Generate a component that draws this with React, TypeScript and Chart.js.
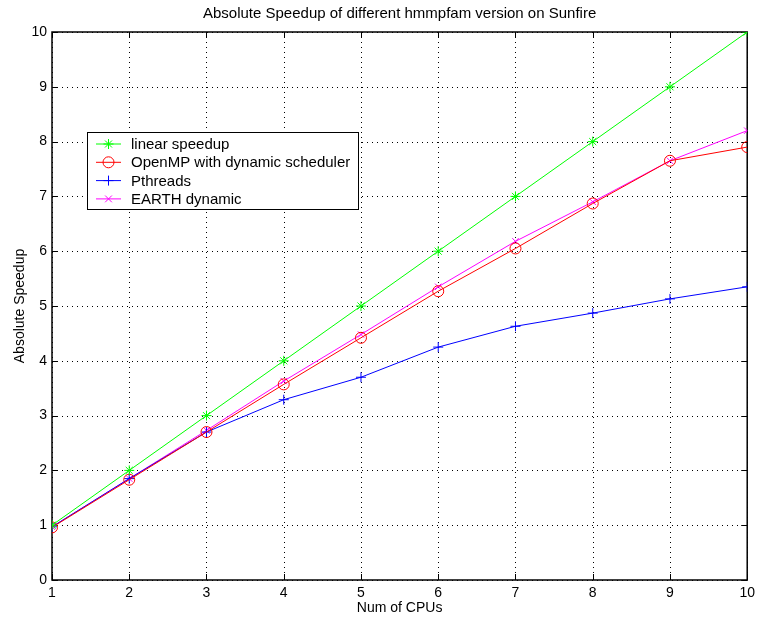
import React, { useEffect, useRef } from "react";
import { Chart, registerables } from "chart.js";

Chart.register(...registerables);

const cpus = [1, 2, 3, 4, 5, 6, 7, 8, 9, 10];
const linearSpeedup = [1, 2, 3, 4, 5, 6, 7, 8, 9, 10];
const openmpDynamic = [0.96, 1.83, 2.7, 3.57, 4.42, 5.27, 6.05, 6.87, 7.65, 7.9];
const pthreads = [0.97, 1.85, 2.7, 3.29, 3.7, 4.25, 4.63, 4.87, 5.13, 5.35];
const earthDynamic = [0.97, 1.85, 2.73, 3.63, 4.48, 5.35, 6.18, 6.9, 7.65, 8.2];
const yTicks = [0, 1, 2, 3, 4, 5, 6, 7, 8, 9, 10];

const FONT = "'Liberation Sans', Arial, Helvetica, sans-serif";

const series = [
  { label: "linear speedup", data: linearSpeedup, color: "#00ff00", style: "star", radius: 5 },
  { label: "OpenMP with dynamic scheduler", data: openmpDynamic, color: "#ff0000", style: "circle", radius: 5.5 },
  { label: "Pthreads", data: pthreads, color: "#0000ff", style: "cross", radius: 5 },
  { label: "EARTH dynamic", data: earthDynamic, color: "#ff00ff", style: "crossRot", radius: 4.5 },
];

function drawMarker(ctx: CanvasRenderingContext2D, style: string, x: number, y: number, r: number, color: string) {
  ctx.save();
  ctx.strokeStyle = color;
  ctx.lineWidth = 1;
  ctx.beginPath();
  if (style === "circle") {
    ctx.arc(x, y, r, 0, Math.PI * 2);
  } else if (style === "cross") {
    ctx.moveTo(x - r, y); ctx.lineTo(x + r, y);
    ctx.moveTo(x, y - r); ctx.lineTo(x, y + r);
  } else if (style === "crossRot") {
    const d = r * 0.75;
    ctx.moveTo(x - d, y - d); ctx.lineTo(x + d, y + d);
    ctx.moveTo(x - d, y + d); ctx.lineTo(x + d, y - d);
  } else {
    const d = r * 0.7;
    ctx.moveTo(x - r, y); ctx.lineTo(x + r, y);
    ctx.moveTo(x, y - r); ctx.lineTo(x, y + r);
    ctx.moveTo(x - d, y - d); ctx.lineTo(x + d, y + d);
    ctx.moveTo(x - d, y + d); ctx.lineTo(x + d, y - d);
  }
  ctx.stroke();
  ctx.restore();
}

const framePlugin = {
  id: "frame",
  beforeDatasetsDraw(chart: any) {
    const { ctx, chartArea: a, scales } = chart;
    const xs = scales.x;
    const ys = scales.y;
    ctx.save();
    ctx.strokeStyle = "#000";
    ctx.lineWidth = 1;
    ctx.setLineDash([1, 4]);
    cpus.forEach((v) => {
      const px = Math.round(xs.getPixelForValue(v)) + 0.5;
      ctx.beginPath();
      ctx.moveTo(px, a.top);
      ctx.lineTo(px, a.bottom);
      ctx.stroke();
    });
    yTicks.forEach((v) => {
      const py = Math.round(ys.getPixelForValue(v)) + 0.5;
      ctx.beginPath();
      ctx.moveTo(a.left, py);
      ctx.lineTo(a.right, py);
      ctx.stroke();
    });
    ctx.setLineDash([]);
    const tl = 6;
    cpus.forEach((v) => {
      const px = Math.round(xs.getPixelForValue(v)) + 0.5;
      ctx.beginPath();
      ctx.moveTo(px, a.bottom);
      ctx.lineTo(px, a.bottom - tl);
      ctx.moveTo(px, a.top);
      ctx.lineTo(px, a.top + tl);
      ctx.stroke();
    });
    yTicks.forEach((v) => {
      const py = Math.round(ys.getPixelForValue(v)) + 0.5;
      ctx.beginPath();
      ctx.moveTo(a.left, py);
      ctx.lineTo(a.left + tl, py);
      ctx.moveTo(a.right, py);
      ctx.lineTo(a.right - tl, py);
      ctx.stroke();
    });
    ctx.lineWidth = 1.5;
    ctx.strokeRect(a.left, a.top, a.right - a.left, a.bottom - a.top);
    ctx.restore();
  },
  afterDatasetsDraw(chart: any) {
    const { ctx } = chart;
    const a = chart.chartArea;
    ctx.save();
    ctx.fillStyle = "#000";
    ctx.font = `15px ${FONT}`;
    ctx.textAlign = "center";
    ctx.textBaseline = "middle";
    ctx.fillText("Absolute Speedup of different hmmpfam version on Sunfire", (a.left + a.right) / 2, 14);
    const bx = 87, by = 132, bw = 271, bh = 77;
    ctx.fillStyle = "#fff";
    ctx.fillRect(bx, by, bw, bh);
    ctx.strokeStyle = "#000";
    ctx.lineWidth = 1;
    ctx.strokeRect(bx + 0.5, by + 0.5, bw, bh);
    ctx.font = `15px ${FONT}`;
    ctx.textAlign = "left";
    series.forEach((s, i) => {
      const y = by + 12 + i * 18.3;
      ctx.strokeStyle = s.color;
      ctx.lineWidth = 1;
      ctx.beginPath();
      ctx.moveTo(96, y);
      ctx.lineTo(121, y);
      ctx.stroke();
      drawMarker(ctx, s.style, 108.5, y, s.radius, s.color);
      ctx.fillStyle = "#000";
      ctx.fillText(s.label, 131, y + 1);
    });
    ctx.restore();
  },
};

export default function App() {
  const ref = useRef<HTMLCanvasElement | null>(null);
  useEffect(() => {
    if (!ref.current) return;
    const chart = new Chart(ref.current, {
      type: "line",
      data: {
        datasets: series.map((s) => ({
          label: s.label,
          data: s.data.map((v, i) => ({ x: cpus[i], y: v })),
          borderColor: s.color,
          backgroundColor: "transparent",
          borderWidth: 1,
          pointStyle: s.style as any,
          pointRadius: s.radius,
          pointBorderColor: s.color,
          pointBackgroundColor: "transparent",
          pointBorderWidth: 1,
          tension: 0,
        })),
      },
      options: {
        animation: false,
        responsive: false,
        maintainAspectRatio: false,
        layout: { padding: { top: 32, right: 10, left: 0, bottom: 0 } },
        plugins: { legend: { display: false }, tooltip: { enabled: false }, title: { display: false } },
        scales: {
          x: {
            type: "linear",
            min: 1,
            max: 10,
            grid: { display: false, drawTicks: false },
            border: { display: false },
            ticks: {
              stepSize: 1,
              color: "#000",
              font: { family: FONT, size: 14 },
              padding: 5,
              maxRotation: 0,
            },
            title: {
              display: true,
              text: "Num of CPUs",
              color: "#000",
              font: { family: FONT, size: 14 },
              padding: { top: 0, bottom: 5 },
            },
            afterFit: (s: any) => { s.height = 42; },
          },
          y: {
            type: "linear",
            min: 0,
            max: 10,
            grid: { display: false, drawTicks: false },
            border: { display: false },
            ticks: {
              stepSize: 1,
              color: "#000",
              font: { family: FONT, size: 14 },
              padding: 5,
            },
            title: {
              display: true,
              text: "Absolute Speedup",
              color: "#000",
              font: { family: FONT, size: 14 },
              padding: { top: 12, bottom: 0 },
            },
            afterFit: (s: any) => { s.width = 52; },
          },
        },
      },
      plugins: [framePlugin],
    });
    return () => chart.destroy();
  }, []);
  return (
    <div style={{ position: "fixed", left: 0, top: 0, width: 760, height: 622, background: "#fff" }}>
      <canvas ref={ref} width={760} height={622} style={{ width: 760, height: 622 }} />
    </div>
  );
}
